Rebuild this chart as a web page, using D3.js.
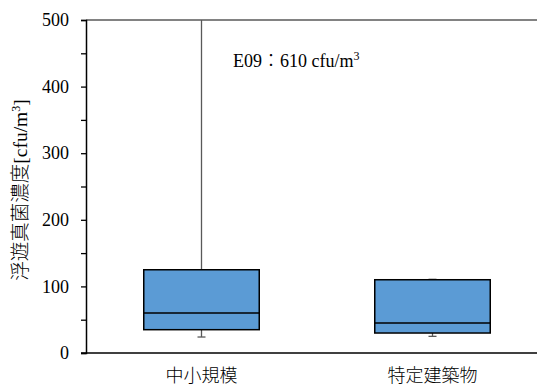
<!DOCTYPE html>
<html>
<head>
<meta charset="utf-8">
<script src="https://cdn.jsdelivr.net/npm/d3@7"></script>
<style>
  body { margin: 0; background: #fff; }
  svg { display: block; }
</style>
</head>
<body>
<svg id="chart" width="537" height="387"></svg>
<script>
// data
var categories = ["中小規模", "特定建築物"];
var whiskerLow = [24, 25];
var q1 = [35, 30];
var median = [60, 45];
var q3 = [125, 110];
var whiskerHigh = [610, 111];
var yTicks = [0, 100, 200, 300, 400, 500];
var yMinorTicks = [50, 150, 250, 350, 450];

var svg = d3.select("#chart");
var plotLeft = 86, plotRight = 548, plotTop = 20, plotBottom = 353;

var x = d3.scaleBand().domain(categories).range([plotLeft, plotRight]);
var y = d3.scaleLinear().domain([0, 500]).range([plotBottom, plotTop]);

var serif = "'Liberation Serif', 'Times New Roman', serif";
var cjk = "'Noto Sans CJK JP', sans-serif";

// clip so the long whisker stops at the top of the plot
svg.append("clipPath").attr("id", "plotclip")
    .append("rect").attr("x", plotLeft).attr("y", plotTop)
    .attr("width", plotRight - plotLeft).attr("height", plotBottom - plotTop);

var g = svg.append("g").attr("clip-path", "url(#plotclip)");
var boxW = x.bandwidth() * 0.5;

//箱ひげ
for (var i = 0; i < categories.length; i++) {
    var cx = x(categories[i]) + x.bandwidth() / 2;
    g.append("line")
        .attr("x1", cx).attr("x2", cx)
        .attr("y1", y(whiskerHigh[i])).attr("y2", y(whiskerLow[i]))
        .attr("stroke", "#595959").attr("stroke-width", 1.3);
    g.append("line")
        .attr("x1", cx - 4).attr("x2", cx + 4)
        .attr("y1", y(whiskerLow[i])).attr("y2", y(whiskerLow[i]))
        .attr("stroke", "#595959").attr("stroke-width", 1.3);
    g.append("line")
        .attr("x1", cx - 4).attr("x2", cx + 4)
        .attr("y1", y(whiskerHigh[i])).attr("y2", y(whiskerHigh[i]))
        .attr("stroke", "#a0a0a0").attr("stroke-width", 1.3);
    g.append("rect")
        .attr("x", cx - boxW / 2).attr("width", boxW)
        .attr("y", y(q3[i])).attr("height", y(q1[i]) - y(q3[i]))
        .attr("fill", "#5b9bd5").attr("stroke", "#000").attr("stroke-width", 1.5);
    g.append("line")
        .attr("x1", cx - boxW / 2).attr("x2", cx + boxW / 2)
        .attr("y1", y(median[i])).attr("y2", y(median[i]))
        .attr("stroke", "#000").attr("stroke-width", 1.5);
}

// top border line
svg.append("line")
    .attr("x1", plotLeft).attr("x2", 537).attr("y1", plotTop).attr("y2", plotTop)
    .attr("stroke", "#595959").attr("stroke-width", 1.3);

// y axis
var yAxis = svg.append("g").attr("transform", "translate(" + plotLeft + ",0)")
    .call(d3.axisLeft(y).tickValues(yTicks).tickSize(5).tickPadding(12));
yAxis.attr("font-family", serif);
yAxis.select(".domain").attr("stroke", "#000").attr("stroke-width", 1.5);
yAxis.selectAll(".tick line").attr("stroke", "#000").attr("stroke-width", 1.3);
yAxis.selectAll("text").style("font-family", serif).style("font-size", "18px").attr("fill", "#000");
svg.append("g").attr("transform", "translate(" + plotLeft + ",0)")
    .call(d3.axisLeft(y).tickValues(yMinorTicks).tickSize(5).tickFormat(""))
    .call(function (s) {
        s.select(".domain").remove();
        s.selectAll(".tick line").attr("stroke", "#000").attr("stroke-width", 1.3);
    });

// x axis line
svg.append("line")
    .attr("x1", plotLeft - 5).attr("x2", 537).attr("y1", plotBottom).attr("y2", plotBottom)
    .attr("stroke", "#000").attr("stroke-width", 1.5);

// category labels
svg.selectAll(".cat").data(categories).enter().append("text")
    .attr("x", function (d) { return x(d) + x.bandwidth() / 2; })
    .attr("y", 382)
    .attr("text-anchor", "middle")
    .style("font-family", cjk).style("font-size", "18px").style("font-weight", 300)
    .attr("fill", "#000")
    .text(function (d) { return d; });

// y title
var yt = svg.append("text")
    .attr("transform", "translate(27,190) rotate(-90)")
    .attr("text-anchor", "middle")
    .style("font-size", "19.5px").attr("fill", "#000");
yt.append("tspan").style("font-family", cjk).style("font-weight", 300).text("浮遊真菌濃度");
yt.append("tspan").style("font-family", serif).text("[cfu/m");
yt.append("tspan").style("font-family", serif).style("font-size", "12px").attr("dy", -7).text("3");
yt.append("tspan").style("font-family", serif).attr("dy", 7).text("]");

// annotation
var an = svg.append("text")
    .attr("x", 233).attr("y", 67)
    .style("font-family", serif).style("font-size", "18px").attr("fill", "#000");
an.append("tspan").text("E09");
an.append("tspan").style("font-family", cjk).style("font-weight", 300).text("：");
an.append("tspan").text("610 cfu/m");
an.append("tspan").style("font-size", "12px").attr("dy", -7).text("3");
</script>
</body>
</html>
